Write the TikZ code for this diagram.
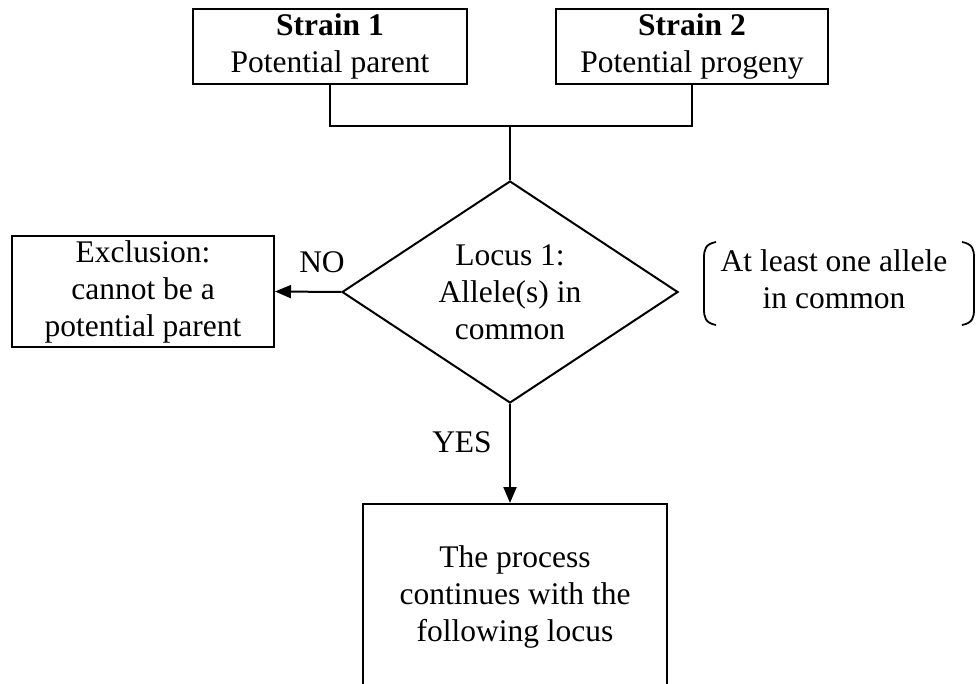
\documentclass[tikz,border=0pt]{standalone}
\usepackage{fontspec}
\setmainfont{Liberation Serif}
\usetikzlibrary{shapes.geometric,arrows.meta}
\begin{document}
\begin{tikzpicture}[x=1pt,y=-1pt,
  every node/.style={font=\fontsize{31.5}{37}\selectfont},
  box/.style={draw, line width=2pt, align=center, inner sep=0pt},
  conn/.style={line width=2pt},
  arr/.style={line width=2pt, -{Triangle[length=16pt,width=13pt]}},
  lbl/.style={inner sep=0pt}]
\useasboundingbox (0,0) rectangle (979,684);
\clip (0,0) rectangle (979,684);
\node[box, minimum width=274pt, minimum height=75pt] (s1) at (330,46.5) {\textbf{Strain 1}\\Potential parent};
\node[box, minimum width=272pt, minimum height=75pt] (s2) at (692,46.5) {\textbf{Strain 2}\\Potential progeny};
\coordinate (j) at (510,126);
\node[box, diamond, aspect=1.5, minimum width=336pt, minimum height=222pt] (d) at (510,292) {Locus 1:\\Allele(s) in\\common};
\node[box, minimum width=262pt, minimum height=111pt] (ex) at (143,291.5) {Exclusion:\\cannot be a\\potential parent};
\node[box, minimum width=304pt, minimum height=240pt] (res) at (515,624) {};
\node[lbl, align=center] (restext) at (515,597) {The process\\continues with the\\following locus};
\node[lbl] (no) at (322,262) {NO};
\node[lbl] (yes) at (462,442) {YES};
\node[lbl, align=center] (note) at (834,279) {At least one allele\\in common};
\draw[conn] (s1.south) |- (j);
\draw[conn] (s2.south) |- (j);
\draw[conn] (j) -- (d.north);
\draw[arr] (d.west) -- (ex.east);
\draw[arr] (d.south) -- (d.south |- res.north);
\draw[line width=1.8pt] (716,242) .. controls (705,244) and (704,250) .. (704,258) -- (704,309) .. controls (704,317) and (705,323) .. (716,325);
\draw[line width=1.8pt] (962,242) .. controls (973,244) and (974,250) .. (974,258) -- (974,309) .. controls (974,317) and (973,323) .. (962,325);
\end{tikzpicture}
\end{document}
